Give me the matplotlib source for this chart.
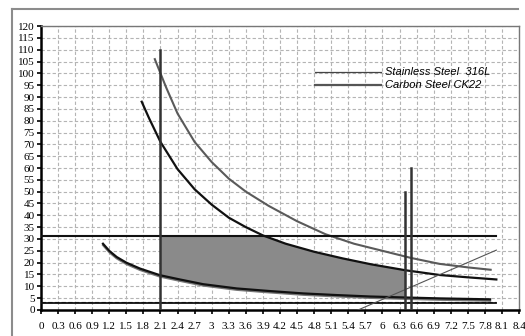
import numpy as np
import matplotlib
matplotlib.use('Agg')
import matplotlib.pyplot as plt
from matplotlib.lines import Line2D

# ---- data ----
ss_x = [2.0, 2.1, 2.2, 2.4, 2.7, 3.0, 3.3, 3.6, 4.0, 4.5, 5.0, 5.5, 6.0, 6.5, 7.0, 7.5, 7.9]
ss_y = [106, 100, 94, 83, 71, 62.5, 55.5, 50, 44, 37.5, 32, 28, 25, 22, 19.5, 18, 17]

cs_x = [1.77, 1.9, 2.1, 2.4, 2.7, 3.0, 3.3, 3.6, 3.9, 4.3, 4.8, 5.3, 5.8, 6.4, 7.0, 7.5, 8.0]
cs_y = [88, 81, 71, 59.5, 51, 44.5, 39, 35, 31.5, 28, 24.6, 21.8, 19.3, 16.8, 14.8, 13.8, 12.9]

low_x = [1.09, 1.2, 1.33, 1.5, 1.74, 2.09, 2.44, 2.85, 3.44, 4.02, 4.61, 5.2, 5.78, 6.37, 7.0, 7.89]
low_y = [28, 25, 22.4, 20, 17.5, 14.7, 12.9, 10.9, 9.1, 8.0, 7.0, 6.3, 5.7, 5.3, 4.9, 4.5]

limit_y = 31.2          # horizontal limit line
limit_x = [0, 8.0]
base_y = 3.0            # lower dashed line
diag_x = [5.57, 8.0]
diag_y = [0, 25.3]
vlines_x = [2.1, 6.4, 6.5]
vlines_top = [110, 50, 60]
shade_x = [2.1, 6.4]

legend_labels = ['Stainless Steel  316L', 'Carbon Steel CK22']

xticks = np.round(np.arange(0, 8.41, 0.3), 1)
yticks = np.arange(0, 121, 5)

# ---- figure ----
fig = plt.figure(figsize=[5.25, 3.36], dpi=100)
ax = fig.add_axes([0.078, 0.0774, 0.9108, 0.8452])

ax.set_xlim(0, 8.4)
ax.set_ylim(0, 120)
ax.set_xticks(xticks)
ax.set_yticks(yticks)
ax.set_xticklabels(['%g' % t for t in xticks], fontsize=8, family='Liberation Serif')
ax.set_yticklabels(['%d' % t for t in yticks], fontsize=8, family='Liberation Serif')
ax.tick_params(direction='out', length=3, width=1.2, pad=1.5)
ax.tick_params(axis='x', pad=6)

ax.grid(True, color='#b4b4b4', linestyle=(0, (3, 2)), linewidth=0.8)
ax.set_axisbelow(True)

for s in ['left', 'bottom']:
   ax.spines[s].set_linewidth(1.8)
   ax.spines[s].set_color('k')
for s in ['top', 'right']:
   ax.spines[s].set_linewidth(1.0)
   ax.spines[s].set_color('#777777')

# shaded area between curves
xs = np.linspace(shade_x[0], shade_x[1], 200)
up = np.minimum(np.interp(xs, cs_x, cs_y), limit_y)
lo = np.interp(xs, low_x, low_y)
ax.fill_between(xs, lo, up, color='#8a8a8a', linewidth=0, zorder=2)

# curves
ax.plot(ss_x, ss_y, color='#5a5a5a', linewidth=1.5, zorder=3)
ax.plot(cs_x, cs_y, color='#111111', linewidth=1.6, zorder=3)
ax.plot(low_x, np.array(low_y) - 0.6, color='#777777', linewidth=1.5, zorder=3)
ax.plot(low_x, low_y, color='#111111', linewidth=1.6, zorder=3)

ax.plot(limit_x, [limit_y, limit_y], color='#111111', linewidth=1.5, zorder=3)
ax.plot(limit_x, [base_y, base_y], color='#111111', linewidth=1.3, zorder=3)
ax.plot(limit_x, [base_y + 0.4, base_y + 0.4], color='#111111', linewidth=0.8, linestyle=(0, (4, 2)), zorder=3)
ax.plot(diag_x, diag_y, color='#555555', linewidth=0.8, zorder=3)

for xv, yt in zip(vlines_x, vlines_top):
   ax.plot([xv, xv], [0, yt], color='#333333', linewidth=1.8, zorder=4)

# legend drawn by hand
ax.plot([0.573, 0.711], [0.838, 0.838], transform=ax.transAxes, color='#444444', linewidth=0.9)
ax.plot([0.573, 0.711], [0.791, 0.791], transform=ax.transAxes, color='#555555', linewidth=1.6)
ax.text(0.72, 0.838, legend_labels[0], transform=ax.transAxes, fontsize=8,
        family='Liberation Sans', style='italic', va='center', ha='left')
ax.text(0.72, 0.791, legend_labels[1], transform=ax.transAxes, fontsize=8,
        family='Liberation Sans', style='italic', va='center', ha='left')

# outer frame
fig.add_artist(Line2D([12/525, 12/525], [0, 1 - 9/336], color='#8c8c8c', linewidth=1.5))
fig.add_artist(Line2D([12/525, 518/525], [1 - 9/336, 1 - 9/336], color='#8c8c8c', linewidth=1.5))

plt.savefig('out.png', dpi=100)
plt.close()
